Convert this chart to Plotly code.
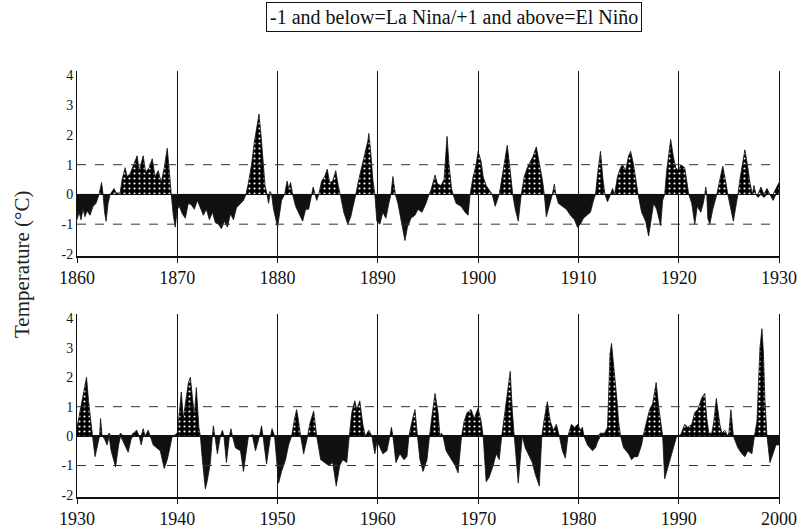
import numpy as np
import plotly.graph_objects as go
from plotly.subplots import make_subplots

# ---- data (year, index value) ----
top_years = [
    1860.0, 1860.2, 1860.4, 1860.6, 1860.8, 1861.0, 1861.3, 1861.6, 1861.9, 1862.2,
    1862.45, 1862.6, 1862.75, 1862.9, 1863.1, 1863.3, 1863.7, 1863.9, 1864.3, 1864.5,
    1864.8, 1865.0, 1865.3, 1865.6, 1866.0, 1866.2, 1866.45, 1866.6, 1866.85, 1867.2,
    1867.5, 1867.8, 1868.1, 1868.4, 1868.7, 1869.0, 1869.2, 1869.4, 1869.6, 1869.8,
    1870.0, 1870.2, 1870.5, 1870.8, 1871.1, 1871.4, 1871.7, 1872.0, 1872.3, 1872.6,
    1872.9, 1873.2, 1873.5, 1873.8, 1874.1, 1874.4, 1874.7, 1875.0, 1875.3, 1875.6,
    1875.9, 1876.2, 1876.6, 1876.85, 1877.1, 1877.4, 1877.7, 1877.95, 1878.15, 1878.35,
    1878.55, 1878.75, 1878.95, 1879.1, 1879.25, 1879.4, 1879.6, 1880.0, 1880.2, 1880.4,
    1880.7, 1880.95, 1881.1, 1881.3, 1881.5, 1881.8, 1882.1, 1882.5, 1882.8, 1883.1,
    1883.4, 1883.55, 1883.75, 1883.9, 1884.1, 1884.4, 1884.7, 1884.95, 1885.2, 1885.5,
    1885.8, 1886.05, 1886.25, 1886.6, 1887.0, 1887.3, 1887.6, 1887.8, 1888.1, 1888.4,
    1888.75, 1889.0, 1889.1, 1889.3, 1889.5, 1889.7, 1889.9, 1890.2, 1890.5, 1890.8,
    1891.1, 1891.3, 1891.5, 1891.75, 1892.0, 1892.3, 1892.7, 1892.95, 1893.3, 1893.7,
    1894.0, 1894.4, 1894.8, 1895.1, 1895.3, 1895.7, 1895.95, 1896.3, 1896.6, 1896.9,
    1897.1, 1897.35, 1897.5, 1897.8, 1898.3, 1898.7, 1899.0, 1899.2, 1899.5, 1899.8,
    1900.0, 1900.3, 1900.5, 1900.8, 1901.2, 1901.4, 1901.7, 1902.1, 1902.3, 1902.6,
    1902.9, 1903.2, 1903.45, 1903.7, 1904.0, 1904.3, 1904.6, 1904.9, 1905.2, 1905.5,
    1905.8, 1906.1, 1906.4, 1906.6, 1906.8, 1907.2, 1907.4, 1907.6, 1907.75, 1908.0,
    1908.4, 1908.8, 1909.2, 1909.6, 1909.9, 1910.2, 1910.5, 1910.9, 1911.2, 1911.5,
    1911.7, 1911.95, 1912.2, 1912.45, 1912.65, 1912.9, 1913.2, 1913.4, 1913.6, 1913.9,
    1914.2, 1914.4, 1914.7, 1915.0, 1915.2, 1915.5, 1915.8, 1915.95, 1916.3, 1916.7,
    1917.0, 1917.25, 1917.5, 1917.8, 1918.2, 1918.4, 1918.6, 1918.8, 1919.2, 1919.45,
    1919.7, 1920.0, 1920.2, 1920.6, 1920.85, 1921.0, 1921.3, 1921.6, 1921.85, 1922.2,
    1922.45, 1922.6, 1922.7, 1922.8, 1922.9, 1923.1, 1923.4, 1923.8, 1924.1, 1924.4,
    1924.7, 1924.9, 1925.2, 1925.45, 1925.75, 1925.9, 1926.1, 1926.35, 1926.6, 1926.85,
    1927.1, 1927.35, 1927.5, 1927.7, 1927.9, 1928.2, 1928.5, 1928.8, 1929.1, 1929.4,
    1929.7, 1930.0,
]
top_vals = [
    -0.85, -0.6, -0.85, -0.5, -0.75, -0.55, -0.7, -0.4, -0.3, 0,
    0.4, 0, -0.6, -0.9, -0.3, 0, 0.2, 0.05, 0.05, 0.5,
    0.9, 0.6, 0.7, 0.95, 1.3, 0.8, 1.1, 1.3, 0.75, 0.9,
    1.2, 0.6, 0.8, 0.4, 0.9, 1.55, 0.8, 0, -0.7, -1.1,
    -0.5, -0.4, -0.65, -0.8, -0.3, -0.35, -0.5, -0.2, -0.45, -0.7,
    -0.5, -0.85, -0.6, -0.95, -1.0, -1.15, -0.9, -1.1, -0.65, -0.85,
    -0.45, -0.35, -0.2, 0, 0.4, 1.0, 1.8, 2.3, 2.7, 2.0,
    1.0, 0.3, 0, -0.3, 0.1, 0, -0.5, -1.1, -0.7, -0.2,
    0, 0.45, 0.2, 0.4, 0, -0.4, -0.6, -0.9, -0.5, -0.5,
    0, 0.25, 0, -0.2, 0, 0.45, 0.6, 0.85, 0.4, 0.45,
    0.8, 0.3, 0, -0.6, -1.0, -0.75, -0.3, 0, 0.5, 0.9,
    1.4, 1.8, 2.05, 1.4, 0.5, 0, -0.9, -1.0, -0.6, -0.8,
    -0.3, 0, 0.6, 0, -0.3, -0.8, -1.55, -1.1, -0.8, -0.7,
    -0.5, -0.6, -0.3, 0, 0.15, 0.65, 0.35, 0.3, 0.5, 1.95,
    1.0, 0.2, 0, -0.3, -0.4, -0.6, -0.7, 0, 0.6, 1.0,
    1.45, 1.1, 0.6, 0.3, 0.1, 0, -0.4, 0, 0.4, 1.0,
    1.65, 0.8, 0, -0.5, -0.9, 0, 0.6, 0.9, 1.1, 1.3,
    1.6, 1.1, 0.5, 0, -0.75, -0.3, 0, 0.35, 0, -0.3,
    -0.4, -0.5, -0.7, -0.85, -1.1, -1.0, -0.8, -0.7, -0.6, -0.2,
    0, 0.8, 1.45, 0.5, 0, -0.25, 0, 0.2, 0, 0.6,
    0.9, 1.0, 0.8, 1.3, 1.45, 1.0, 0.3, 0, -0.6, -0.9,
    -1.4, -0.8, -0.3, -0.5, -1.05, -0.2, 0, 0.8, 1.85, 1.3,
    0.9, 0.8, 1.0, 0.9, 0.3, 0, -0.3, -1.0, -0.4, -0.6,
    -0.3, 0, 0.25, 0, -0.8, -1.0, -0.5, 0, 0.5, 0.95,
    0.4, 0, -0.5, -0.9, -0.3, 0, 0.5, 1.0, 1.5, 1.0,
    0.4, 0, 0.3, 0, -0.1, 0.25, -0.1, 0.2, 0, -0.2,
    0.2, 0.4,
]

bottom_years = [
    1930.0, 1930.3, 1930.6, 1930.95, 1931.15, 1931.4, 1931.55, 1931.8, 1932.1, 1932.25,
    1932.35, 1932.5, 1932.75, 1933.0, 1933.2, 1933.4, 1933.85, 1934.15, 1934.35, 1934.6,
    1935.1, 1935.4, 1935.6, 1935.95, 1936.2, 1936.4, 1936.6, 1936.8, 1937.1, 1937.3,
    1937.6, 1937.9, 1938.3, 1938.7, 1939.0, 1939.2, 1939.5, 1939.8, 1940.0, 1940.2,
    1940.4, 1940.6, 1940.85, 1941.1, 1941.3, 1941.5, 1941.7, 1941.9, 1942.15, 1942.3,
    1942.5, 1942.8, 1943.0, 1943.3, 1943.5, 1943.6, 1943.75, 1944.0, 1944.3, 1944.5,
    1944.65, 1944.9, 1945.2, 1945.35, 1945.5, 1945.8, 1946.3, 1946.6, 1946.9, 1947.1,
    1947.5, 1947.8, 1948.2, 1948.4, 1948.55, 1948.9, 1949.3, 1949.45, 1949.7, 1950.1,
    1950.4, 1950.8, 1951.1, 1951.4, 1951.7, 1951.9, 1952.1, 1952.3, 1952.6, 1953.0,
    1953.2, 1953.6, 1953.9, 1954.3, 1954.7, 1955.1, 1955.5, 1955.85, 1956.2, 1956.5,
    1956.9, 1957.15, 1957.4, 1957.7, 1957.9, 1958.2, 1958.5, 1958.75, 1959.1, 1959.4,
    1959.7, 1959.9, 1960.1, 1960.5, 1960.9, 1961.2, 1961.35, 1961.5, 1961.8, 1962.2,
    1962.6, 1962.9, 1963.1, 1963.4, 1963.7, 1963.95, 1964.2, 1964.5, 1964.9, 1965.15,
    1965.4, 1965.7, 1966.0, 1966.2, 1966.35, 1966.5, 1966.8, 1967.3, 1967.7, 1968.0,
    1968.35, 1968.6, 1968.9, 1969.3, 1969.6, 1970.0, 1970.3, 1970.5, 1970.8, 1971.1,
    1971.5, 1971.8, 1972.1, 1972.35, 1972.7, 1972.9, 1973.2, 1973.4, 1973.6, 1974.0,
    1974.4, 1974.7, 1975.0, 1975.4, 1975.7, 1976.1, 1976.35, 1976.6, 1976.9, 1977.2,
    1977.5, 1977.8, 1978.1, 1978.4, 1978.7, 1978.95, 1979.3, 1979.6, 1979.95, 1980.2,
    1980.4, 1980.55, 1980.9, 1981.4, 1981.7, 1981.9, 1982.2, 1982.6, 1982.9, 1983.0,
    1983.15, 1983.3, 1983.5, 1983.7, 1983.85, 1984.0, 1984.2, 1984.5, 1985.0, 1985.3,
    1985.6, 1985.9, 1986.3, 1986.45, 1986.8, 1987.1, 1987.4, 1987.75, 1988.0, 1988.25,
    1988.4, 1988.6, 1988.9, 1989.3, 1989.55, 1989.8, 1990.2, 1990.6, 1990.9, 1991.3,
    1991.6, 1991.9, 1992.3, 1992.6, 1992.8, 1993.0, 1993.3, 1993.5, 1993.75, 1994.1,
    1994.3, 1994.6, 1994.85, 1995.0, 1995.2, 1995.45, 1995.9, 1996.3, 1996.6, 1996.9,
    1997.3, 1997.55, 1997.8, 1997.95, 1998.1, 1998.3, 1998.45, 1998.6, 1998.8, 1999.1,
    1999.4, 1999.7, 2000.0,
]
bottom_vals = [
    0.3, 0.8, 1.3, 2.0, 1.2, 0.4, 0, -0.7, -0.2, 0,
    0.6, 0, -0.1, -0.3, 0.1, -0.5, -1.05, -0.3, 0.1, -0.2,
    -0.55, -0.1, 0.1, 0.2, 0, -0.3, 0.25, 0, 0.2, 0,
    -0.3, -0.4, -0.5, -1.1, -0.8, -0.5, 0, 0.05, 0.1, 0.8,
    1.5, 0.6, 1.2, 1.8, 2.0, 1.4, 0.7, 1.65, 0.3, 0,
    -0.8, -1.8, -1.5, -0.9, 0, 0.35, 0, -0.6, 0, 0.2,
    0, -0.9, 0, 0.25, 0, -0.4, -0.5, -1.2, -0.5, 0,
    0.05, -0.5, 0, 0.35, 0, -0.95, 0, 0.25, 0, -1.6,
    -1.2, -0.8, -0.3, 0, 0.6, 0.9, 0.5, 0, -0.6, 0,
    0.4, 0.85, 0, -0.8, -0.9, -1.0, -0.9, -1.7, -1.0, -0.8,
    -0.9, 0, 0.8, 1.2, 0.9, 1.2, 0.4, 0, 0.2, 0,
    -0.6, -0.2, -0.3, -0.6, -0.5, 0, 0.3, 0, -0.9, -0.6,
    -0.8, -0.7, 0, 0.5, 0.9, 0, -0.8, -1.2, -0.8, 0,
    0.7, 1.45, 0.8, 0, 0.1, 0, -0.5, -0.8, -1.0, -1.25,
    0, 0.5, 0.8, 0.9, 0.6, 0.95, 0.5, 0, -1.55, -1.4,
    -1.0, -0.6, -0.8, 0, 0.9, 1.4, 2.2, 0.9, 0, -1.6,
    0, -0.4, -0.6, -0.9, -1.3, -1.7, 0, 0.6, 1.17, 0.5,
    0.2, 0.4, 0, -0.5, -0.75, 0, 0.4, 0.3, 0.4, 0.2,
    0.3, 0, -0.3, -0.5, -0.4, -0.2, 0.1, 0.1, 0.3, 1.5,
    2.8, 3.15, 2.5, 1.8, 1.2, 0.5, 0, -0.4, -0.6, -0.8,
    -0.7, -0.7, -0.3, 0, 0.5, 0.9, 1.1, 1.82, 1.0, 0.4,
    0, -1.45, -1.1, -0.6, -0.3, 0, 0.05, 0.4, 0.3, 0.4,
    0.8, 0.9, 1.3, 1.45, 0.6, 0.1, 0.1, 0.5, 1.28, 0.4,
    0.1, 0.2, 0, 0.1, 0.9, 0, -0.4, -0.6, -0.7, -0.5,
    -0.6, 0, 0.5, 1.8, 3.0, 3.65, 2.8, 1.2, 0, -0.9,
    -0.6, -0.3, -0.3,
]

y_tick_vals = [-2, -1, 0, 1, 2, 3, 4]
y_tick_text = ["-2", "-1", "0", "1", "2", "3", "4"]
title_text = "-1 and below=La Nina/+1 and above=El Niño"
y_title = "Temperature (°C)"

FONT = "Liberation Serif"
INK = "#111111"

W, H = 798, 532


def fx(px):
    return px / W


def fy(py):
    return 1 - py / H


fig = make_subplots(rows=2, cols=1, vertical_spacing=0.1)

panels = [(top_years, top_vals, 1, 1860, 1930), (bottom_years, bottom_vals, 2, 1930, 2000)]
for yrs, vals, row, x0, x1 in panels:
    v = np.array(vals, dtype=float)
    pos = np.maximum(v, 0)
    neg = np.minimum(v, 0)
    fig.add_trace(go.Scatter(
        x=yrs, y=pos, mode="lines", fill="tozeroy",
        line=dict(color=INK, width=0.8),
        fillcolor="black",
        fillpattern=dict(shape=".", bgcolor="black", fgcolor="white",
                         size=5, solidity=0.15, fillmode="replace"),
        showlegend=False, hoverinfo="skip"), row=row, col=1)
    fig.add_trace(go.Scatter(
        x=yrs, y=neg, mode="lines", fill="tozeroy",
        line=dict(color=INK, width=0.8), fillcolor=INK,
        showlegend=False, hoverinfo="skip"), row=row, col=1)
    fig.update_xaxes(range=[x0, x1], tick0=x0, dtick=10, showgrid=True,
                     gridcolor=INK, gridwidth=1.2, showline=True, linecolor=INK,
                     linewidth=1.5, ticks="outside", ticklen=5, tickcolor=INK,
                     tickfont=dict(family=FONT, size=18, color=INK),
                     zeroline=False, automargin=False, row=row, col=1)
    fig.update_yaxes(range=[-2.07, 4.15], tickvals=y_tick_vals, ticktext=y_tick_text,
                     showgrid=False, zeroline=True, zerolinecolor=INK, zerolinewidth=1.5,
                     showline=True, linecolor=INK, linewidth=1, mirror=True,
                     ticks="", tickfont=dict(family=FONT, size=14, color=INK),
                     automargin=False, row=row, col=1)

# dashed +1 / -1 reference lines
for yref in ["y", "y2"]:
    for lvl in (1, -1):
        fig.add_shape(type="line", xref=("x domain" if yref == "y" else "x2 domain"),
                      yref=yref, x0=0, x1=1, y0=lvl, y1=lvl,
                      line=dict(color="#333333", width=1, dash="dash"))

fig.update_layout(
    width=W, height=H,
    margin=dict(l=0, r=0, t=0, b=0, pad=0, autoexpand=False),
    paper_bgcolor="white", plot_bgcolor="white",
    font=dict(family=FONT, color=INK),
    xaxis=dict(domain=[fx(77), fx(779)]),
    xaxis2=dict(domain=[fx(77), fx(779)]),
    yaxis=dict(domain=[fy(256), fy(71)]),
    yaxis2=dict(domain=[fy(497), fy(314)]),
    annotations=[
        dict(text=title_text, x=fx(454), y=fy(17), xref="paper", yref="paper",
             xanchor="center", yanchor="middle",
             showarrow=False, font=dict(family=FONT, size=20, color=INK),
             bordercolor=INK, borderwidth=1, borderpad=3, bgcolor="white"),
        dict(text=y_title, x=fx(22), y=fy(265), xref="paper", yref="paper",
             xanchor="center", yanchor="middle",
             showarrow=False, textangle=-90,
             font=dict(family=FONT, size=21, color="#222222")),
    ],
)

fig.write_html(
    "out.html",
    config={"displayModeBar": False, "staticPlot": True},
    post_script="document.body.style.margin='0';document.body.style.overflow='hidden';",
)
